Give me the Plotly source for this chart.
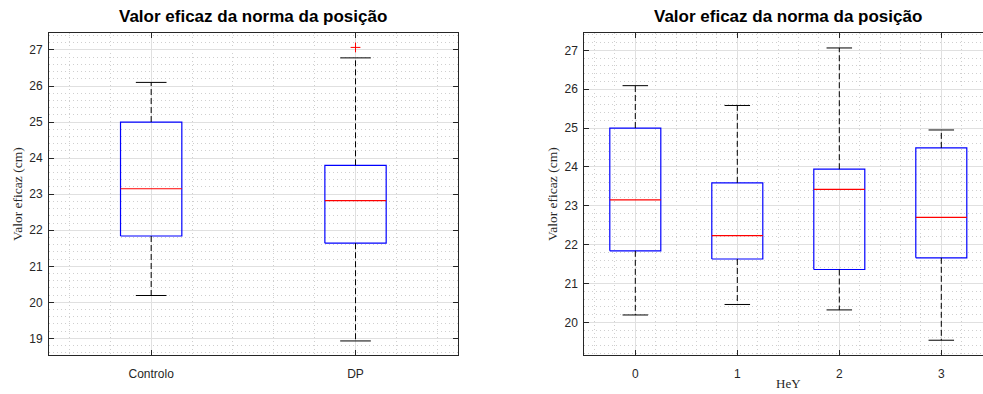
import plotly.graph_objects as go

# ---------------- data ----------------
title_text = "Valor eficaz da norma da posição"
ylabel_text = "Valor eficaz (cm)"
xlabel_right = "HeY"

left_categories = ["Controlo", "DP"]
left_positions = [1, 2]
left_lower = [20.19, 18.93]
left_q1 = [21.84, 21.64]
left_median = [23.15, 22.82]
left_q3 = [25.00, 23.80]
left_upper = [26.10, 26.78]
left_outlier_x = [2]
left_outlier_y = [27.07]

right_categories = ["0", "1", "2", "3"]
right_positions = [0, 1, 2, 3]
right_lower = [20.19, 20.46, 20.32, 19.54]
right_q1 = [21.84, 21.63, 21.36, 21.66]
right_median = [23.15, 22.23, 23.42, 22.70]
right_q3 = [25.00, 23.59, 23.94, 24.49]
right_upper = [26.09, 25.58, 27.06, 24.95]

left_ticks_y = [19, 20, 21, 22, 23, 24, 25, 26, 27]
right_ticks_y = [20, 21, 22, 23, 24, 25, 26, 27]

# ---------------- style ----------------
W, H = 983, 394
BLUE = "#0000ff"
RED = "#ff0000"
AXC = "#262626"
GRID = "#e0e0e0"
MINOR = "#cfcfcf"
SANS = "Liberation Sans, Arial, sans-serif"
SERIF = "Liberation Serif, Times New Roman, serif"

fig = go.Figure()


def add_group(xa, ya, pos, lower, q1, med, q3, upper, bw):
    # box outlines
    bx, by = [], []
    for p, a, b in zip(pos, q1, q3):
        bx += [p - bw / 2, p + bw / 2, p + bw / 2, p - bw / 2, p - bw / 2, None]
        by += [a, a, b, b, a, None]
    fig.add_trace(go.Scatter(x=bx, y=by, mode="lines",
                             line=dict(color=BLUE, width=1.2),
                             xaxis=xa, yaxis=ya, showlegend=False, hoverinfo="skip"))
    # whiskers (dashed)
    wx, wy = [], []
    for p, lo, a, b, up in zip(pos, lower, q1, q3, upper):
        wx += [p, p, None, p, p, None]
        wy += [b, up, None, a, lo, None]
    fig.add_trace(go.Scatter(x=wx, y=wy, mode="lines",
                             line=dict(color="black", width=1, dash="6px,3px"),
                             xaxis=xa, yaxis=ya, showlegend=False, hoverinfo="skip"))
    # caps
    cx, cy = [], []
    half = bw / 4
    for p, lo, up in zip(pos, lower, upper):
        cx += [p - half, p + half, None, p - half, p + half, None]
        cy += [up, up, None, lo, lo, None]
    fig.add_trace(go.Scatter(x=cx, y=cy, mode="lines",
                             line=dict(color="black", width=1),
                             xaxis=xa, yaxis=ya, showlegend=False, hoverinfo="skip"))
    # medians
    mx, my = [], []
    for p, m in zip(pos, med):
        mx += [p - bw / 2, p + bw / 2, None]
        my += [m, m, None]
    fig.add_trace(go.Scatter(x=mx, y=my, mode="lines",
                             line=dict(color=RED, width=1.2),
                             xaxis=xa, yaxis=ya, showlegend=False, hoverinfo="skip"))


add_group("x", "y", left_positions, left_lower, left_q1, left_median,
          left_q3, left_upper, 0.3)
fig.add_trace(go.Scatter(x=left_outlier_x, y=left_outlier_y, mode="markers",
                         marker=dict(symbol="cross-thin", size=7,
                                     line=dict(color=RED, width=1)),
                         xaxis="x", yaxis="y", showlegend=False, hoverinfo="skip"))
add_group("x2", "y2", right_positions, right_lower, right_q1, right_median,
          right_q3, right_upper, 0.5)

# ---------------- axes ----------------
lx0, lx1 = 49 / W, 457.7 / W
rx0, rx1 = 584.3 / W, 1.0
y0, y1 = 1 - 355 / H, 1 - 33 / H

common = dict(showline=True, linecolor=AXC, linewidth=1, ticks="inside",
              ticklen=5, tickcolor=AXC, tickwidth=1, zeroline=False,
              showgrid=True, gridcolor=GRID, gridwidth=1,
              tickfont=dict(family=SANS, size=12, color=AXC))
minor = dict(tickmode="linear", tick0=0, dtick=0.2, showgrid=True,
             gridcolor=MINOR, griddash="1px,3px", gridwidth=1, ticks="")

fig.update_layout(
    width=W, height=H, margin=dict(l=0, r=0, t=0, b=0),
    paper_bgcolor="white", plot_bgcolor="white",
    xaxis=dict(domain=[lx0, lx1], range=[0.5, 2.5], tickmode="array",
               tickvals=left_positions, ticktext=left_categories,
               mirror="ticks", anchor="y", minor=minor,
               ticklabelstandoff=8, **common),
    yaxis=dict(domain=[y0, y1], range=[18.54, 27.47], tickmode="array",
               tickvals=left_ticks_y, mirror="ticks", anchor="x", minor=minor,
               ticklabelstandoff=3, **common),
    xaxis2=dict(domain=[rx0, rx1], range=[-0.5, -0.5 + (W - 584.3) / 102.0],
                tickmode="array", tickvals=right_positions,
                ticktext=right_categories, mirror="ticks", anchor="y2",
                minor=minor, ticklabelstandoff=8, **common),
    yaxis2=dict(domain=[y0, y1], range=[19.16, 27.445], tickmode="array",
                tickvals=right_ticks_y, mirror=False, anchor="x2", minor=minor,
                ticklabelstandoff=3, **common),
)

annotations = [
    dict(text="<b>" + title_text + "</b>", xref="x", yref="paper", x=1.5,
         y=1 - 28 / H, xanchor="center", yanchor="bottom", showarrow=False,
         font=dict(family=SANS, size=17, color="black")),
    dict(text="<b>" + title_text + "</b>", xref="x2", yref="paper", x=1.5,
         y=1 - 28 / H, xanchor="center", yanchor="bottom", showarrow=False,
         font=dict(family=SANS, size=17, color="black")),
    dict(text=ylabel_text, xref="paper", yref="paper", x=17 / W,
         y=(y0 + y1) / 2, xanchor="center", yanchor="middle", textangle=-90,
         showarrow=False, font=dict(family=SERIF, size=13.5, color=AXC)),
    dict(text=ylabel_text, xref="paper", yref="paper", x=552 / W,
         y=(y0 + y1) / 2, xanchor="center", yanchor="middle", textangle=-90,
         showarrow=False, font=dict(family=SERIF, size=13.5, color=AXC)),
    dict(text=xlabel_right, xref="x2", yref="paper", x=1.5, y=1 - 383 / H,
         xanchor="center", yanchor="middle",
         showarrow=False, font=dict(family=SERIF, size=13, color=AXC)),
]
fig.update_layout(annotations=annotations)

fig.write_html("out.html", config={"displayModeBar": False},
               post_script="document.body.style.margin='0px';"
                           "document.body.style.overflow='hidden';")
